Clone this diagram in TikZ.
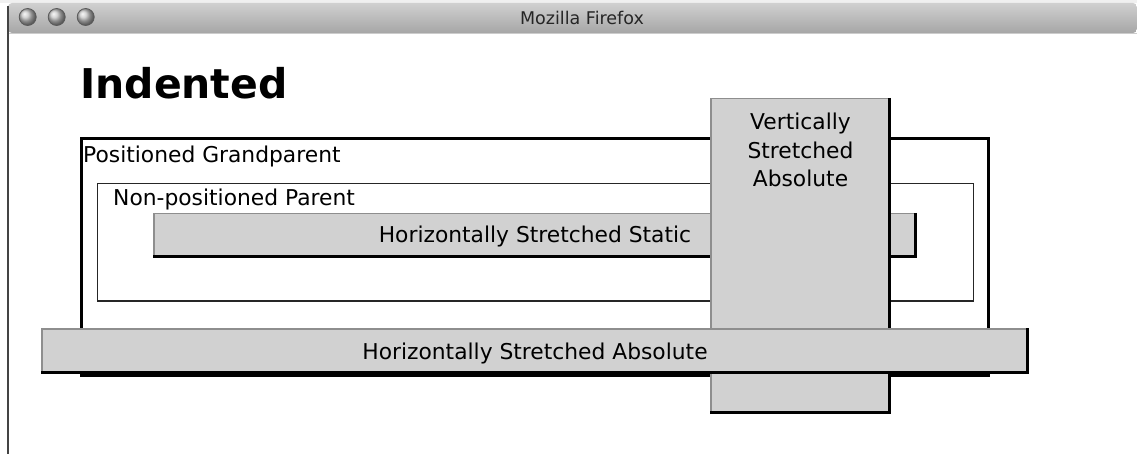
\documentclass[tikz,border=0pt]{standalone}
\usepackage{fontspec}
\setmainfont{DejaVu Sans}
\definecolor{boxfill}{HTML}{D1D1D1}
\definecolor{boxlight}{HTML}{8E8E8E}
\definecolor{bartop}{HTML}{D0D0D0}
\definecolor{barbot}{HTML}{A6A6A6}
\definecolor{frameline}{HTML}{444444}
\newcommand\outsetbox[4]{%
  \fill[boxfill] (#1,#2) rectangle (#3,#4);
  \draw[line width=1.5pt, boxlight] (#1+0.75,#4) -- (#1+0.75,#2+0.75) -- (#3,#2+0.75);
  \draw[line width=3pt, black] (#3-1.5,#2) -- (#3-1.5,#4-1.5) -- (#1,#4-1.5);
}
\tikzset{
  lbl/.style={inner sep=0pt, font=\fontsize{21.8}{28.5}\selectfont},
  light/.style={line width=0.8pt, draw=gray!70!black, ball color=gray!45},
}
\begin{document}
\begin{tikzpicture}[x=1pt,y=-1pt]
\useasboundingbox (0,0) rectangle (1137,454);
\fill[white] (0,0) rectangle (1137,454);
\fill[gray!12] (0,0) rectangle (1137,3);
% title bar
\shade[top color=bartop, bottom color=barbot, rounded corners=4pt] (8,33) -- (8,3) -- (1137,3) -- (1137,33) -- cycle;
\draw[gray!40, line width=1pt] (8,33.5) -- (1137,33.5);
\draw[frameline, line width=1.5pt] (8,6) -- (8,454);
\shade[light] (27.7,17) circle (8.5);
\shade[light] (56.7,17) circle (8.5);
\shade[light] (85.7,17) circle (8.5);
\node[inner sep=0pt, anchor=base, font=\fontsize{17.5}{20}\selectfont, text=black!85] (wtitle) at (582,25) {Mozilla Firefox};
% heading
\node[inner sep=0pt, anchor=base west, font=\fontsize{41}{48}\selectfont\bfseries] (head) at (80,99) {Indented};
% grandparent
\draw[line width=3pt, black] (81.5,138.5) rectangle (988.5,375);
\node[lbl, anchor=base west] (gp) at (83,163) {Positioned Grandparent};
% parent
\draw[line width=1.5pt, black!85] (97.5,183.5) rectangle (973.5,301);
\node[lbl, anchor=base west] (par) at (113,206) {Non-positioned Parent};
% static box
\outsetbox{153}{213}{917}{258}
\node[lbl, anchor=base] (stat) at (535,243) {Horizontally Stretched Static};
% vertical box
\outsetbox{710}{98}{891}{414}
\node[lbl, anchor=base] (vt1) at (800.5,130) {Vertically};
\node[lbl, anchor=base] (vt2) at (800.5,159) {Stretched};
\node[lbl, anchor=base] (vt3) at (800.5,187) {Absolute};
% absolute box
\outsetbox{41}{328}{1029}{374}
\node[lbl, anchor=base] (abs) at (535,359) {Horizontally Stretched Absolute};
\end{tikzpicture}
\end{document}
